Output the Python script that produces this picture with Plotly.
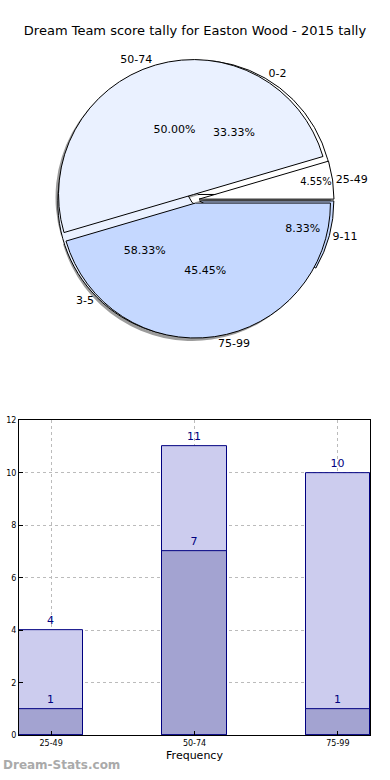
import plotly.graph_objects as go

# ---- data ----
title_text = "Dream Team score tally for Easton Wood - 2015 tally"
pie_a_labels = ["25-49", "50-74", "75-99"]
pie_a_values = [1, 11, 10]
pie_b_labels = ["0-2", "3-5", "9-11"]
pie_b_values = [4, 7, 1]

bar_categories = ["25-49", "50-74", "75-99"]
bar_totals = [4, 11, 10]
bar_lower = [1, 7, 1]

W, H = 390, 780
def px_x(x):
    return x / W
def px_y(y):
    return 1 - y / H

pie_colors = ["#ffffff", "#eaf1ff", "#c5d8ff"]
pull_a = [0.03, 0.04, 0.025]
pull_b = [0.045, 0.03, 0.035]
cx, cy, half = 195, 198, 142
dom = dict(x=[px_x(cx - half), px_x(cx + half)], y=[px_y(cy + half), px_y(cy - half)])
shadow_dom = dict(x=[px_x(cx - half - 3), px_x(cx + half - 3)], y=[px_y(cy + half + 3), px_y(cy - half + 3)])

# first slice starts at 3 o'clock, going counterclockwise
rot_a = 90 - 360 * pie_a_values[0] / sum(pie_a_values)
rot_b = 90 - 360 * pie_b_values[0] / sum(pie_b_values)

common = dict(sort=False, direction="counterclockwise", showlegend=False, hoverinfo="skip")
fnt = dict(family="DejaVu Sans", size=11, color="black")
clear = ["rgba(0,0,0,0)"] * 3

fig = go.Figure()
# shadow
fig.add_trace(go.Pie(labels=pie_a_labels, values=pie_a_values, pull=pull_a, domain=shadow_dom,
                     rotation=rot_a,
                     marker=dict(colors=["rgba(90,90,90,0.6)"] * 3, line=dict(width=0)),
                     textinfo="none", **common))
# underlying pie B
fig.add_trace(go.Pie(labels=pie_b_labels, values=pie_b_values, pull=pull_b, domain=dom,
                     rotation=rot_b,
                     marker=dict(colors=pie_colors, line=dict(color="black", width=1)),
                     textinfo="none", **common))
# pie A on top with percent inside
fig.add_trace(go.Pie(labels=pie_a_labels, values=pie_a_values, pull=pull_a, domain=dom,
                     rotation=rot_a,
                     marker=dict(colors=pie_colors, line=dict(color="black", width=1)),
                     texttemplate="%{percent:.2%}", textposition="inside",
                     insidetextorientation="horizontal", insidetextfont=fnt, **common))
# pie B percents
fig.add_trace(go.Pie(labels=pie_b_labels, values=pie_b_values, pull=pull_b, domain=dom,
                     rotation=rot_b,
                     marker=dict(colors=clear, line=dict(width=0)),
                     texttemplate="%{percent:.2%}", textposition="inside",
                     insidetextorientation="horizontal", insidetextfont=fnt, **common))
# labels outside
fig.add_trace(go.Pie(labels=pie_a_labels, values=pie_a_values, pull=pull_a, domain=dom,
                     rotation=rot_a,
                     marker=dict(colors=clear, line=dict(width=0)),
                     texttemplate="%{label}", textposition="outside", outsidetextfont=fnt, **common))
fig.add_trace(go.Pie(labels=pie_b_labels, values=pie_b_values, pull=pull_b, domain=dom,
                     rotation=rot_b,
                     marker=dict(colors=clear, line=dict(width=0)),
                     texttemplate="%{label}", textposition="outside", outsidetextfont=fnt, **common))

# bars
bar_font = dict(family="DejaVu Sans", size=11, color="#000080")
fig.add_trace(go.Bar(x=bar_categories, y=bar_totals, width=0.448,
                     marker=dict(color="#ccccee", line=dict(color="#000080", width=1)),
                     text=bar_totals, textposition="outside", textfont=bar_font,
                     cliponaxis=False, showlegend=False, hoverinfo="skip"))
fig.add_trace(go.Bar(x=bar_categories, y=bar_lower, width=0.448,
                     marker=dict(color="#a3a3d1", line=dict(color="#000080", width=1)),
                     text=bar_lower, textposition="outside", textfont=bar_font,
                     cliponaxis=False, showlegend=False, hoverinfo="skip"))

axis_common = dict(showline=True, linecolor="black", linewidth=1, mirror=True,
                   showgrid=True, gridcolor="#bbbbbb", griddash="dot", gridwidth=1,
                   ticks="inside", ticklen=4, tickcolor="black",
                   tickfont=dict(family="DejaVu Sans", size=8, color="black"), zeroline=False)

fig.update_layout(
    width=W, height=H, margin=dict(l=0, r=0, t=0, b=0),
    paper_bgcolor="white", plot_bgcolor="white",
    barmode="overlay", bargap=0,
    font=dict(family="DejaVu Sans", color="black"),
    title=dict(text=title_text, x=px_x(195), xanchor="center", y=px_y(30), yanchor="middle",
               font=dict(family="DejaVu Sans", size=13, color="black")),
    xaxis=dict(domain=[px_x(19), px_x(370)], range=[-0.224, 2.224], type="category",
               title=dict(text="Frequency", font=dict(family="DejaVu Sans", size=11), standoff=4),
               **axis_common),
    yaxis=dict(domain=[px_y(740), px_y(421)], range=[0, 12], dtick=2, **axis_common),
    annotations=[dict(text="<b>Dream-Stats.com</b>", x=px_x(1), xanchor="left", y=px_y(770), yanchor="middle",
                      xref="paper", yref="paper", showarrow=False,
                      font=dict(family="DejaVu Sans", size=12, color="#aaaaaa"))],
)

fig.write_html("out.html", config={"displayModeBar": False},
               post_script="document.body.style.margin='0';document.body.style.overflow='hidden';")
